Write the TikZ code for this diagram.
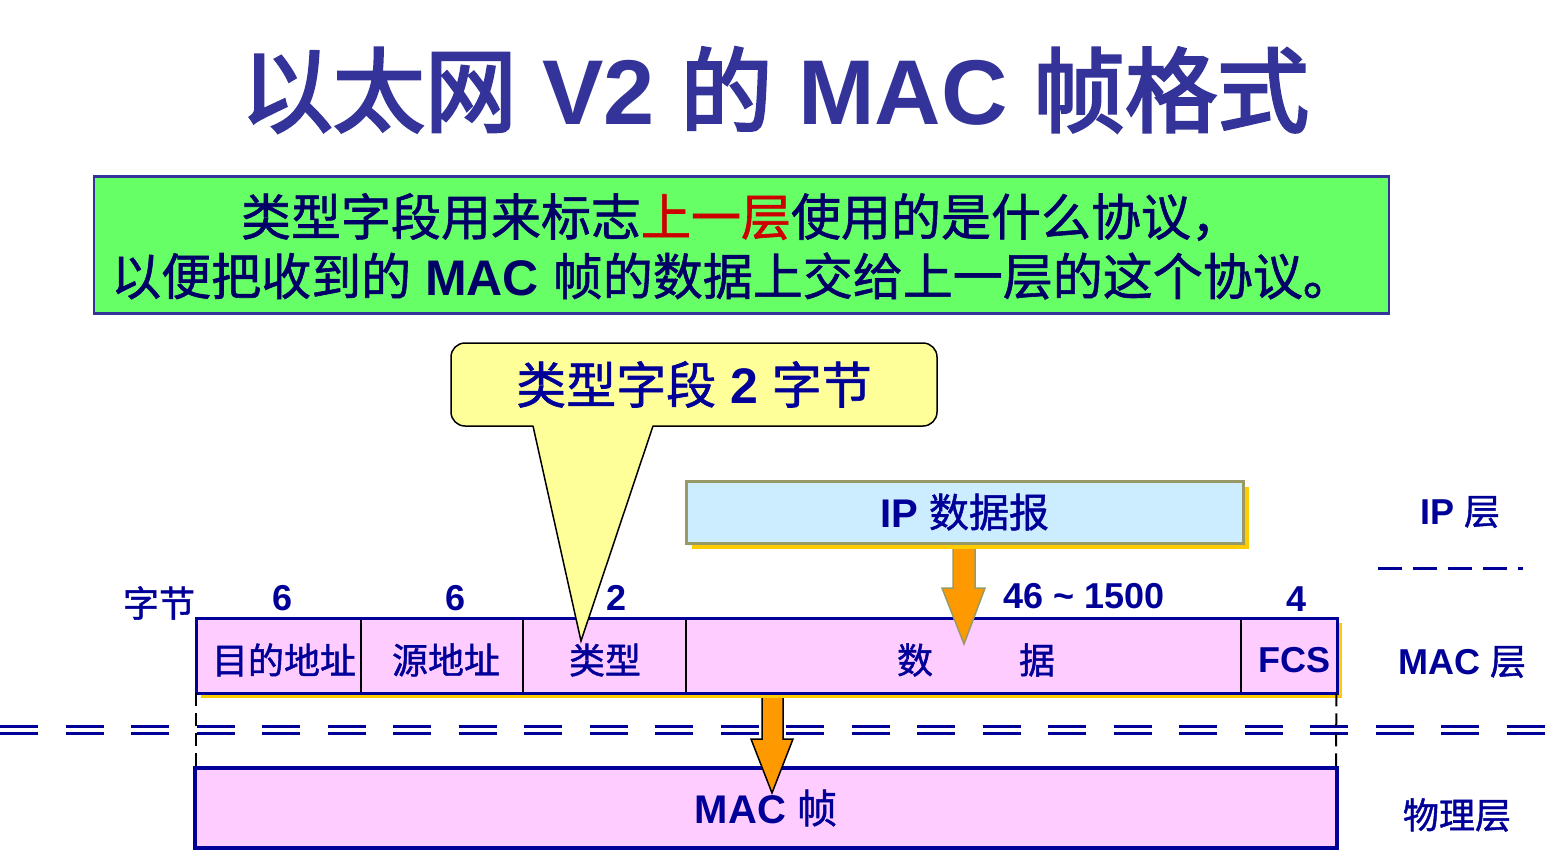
\documentclass[tikz,border=0pt]{standalone}
\usepackage{fontspec}
\setmainfont{Liberation Sans}
\newfontfamily\cjk{Noto Sans CJK SC}[FakeBold=1.2]
\newfontfamily\cjkheavy{Noto Sans CJK SC}[FakeBold=3]
\newcommand\zh[1]{{\cjk\mdseries #1}}
\newcommand\zhb[1]{{\cjkheavy\mdseries #1}}

\definecolor{titleblue}{HTML}{333399}
\definecolor{navy}{HTML}{000099}
\definecolor{deepnavy}{HTML}{000066}
\definecolor{boxgreen}{HTML}{66FF66}
\definecolor{boxred}{HTML}{CC0000}
\definecolor{calloutyellow}{HTML}{FFFF99}
\definecolor{framepink}{HTML}{FFCCFF}
\definecolor{ipblue}{HTML}{CCECFF}
\definecolor{olivegray}{HTML}{999966}
\definecolor{shadowgold}{HTML}{FFCC00}
\definecolor{arroworange}{HTML}{FF9900}

\tikzset{
  titletext/.style={font=\fontsize{92}{100}\selectfont\bfseries, text=titleblue, inner sep=0},
  notetext/.style={font=\fontsize{50}{60}\selectfont\bfseries, text=deepnavy, inner sep=0},
  fieldtext/.style={font=\fontsize{36}{40}\selectfont\bfseries, text=navy, inner sep=0},
  sizetext/.style={font=\fontsize{36}{40}\selectfont\bfseries, text=navy, inner sep=0},
  layertext/.style={font=\fontsize{36}{40}\selectfont\bfseries, text=navy, inner sep=0},
  cellbox/.style={fill=framepink, inner sep=0, minimum height=75},
  blockarrow/.style={fill=arroworange, line width=1.5, line join=miter},
  bluedash/.style={navy, line width=3},
  blackdash/.style={black, line width=2, dash pattern=on 13pt off 7pt},
}

\begin{document}
\begin{tikzpicture}[x=1pt, y=-1pt]
\useasboundingbox (0,0) rectangle (1551,857);

% heading
\node[titletext] (title) at (775,90) {\zhb{以太网} V2 \zhb{的} MAC \zhb{帧格式}};

% explanation box
\node[draw=titleblue, line width=2.5, fill=boxgreen, minimum width=1295, minimum height=137, inner sep=0] (note) at (741.5,245) {};
\node[notetext] (noteA) at (741,217) {\zh{类型字段用来标志}\textcolor{boxred}{\zh{上一层}}\zh{使用的是什么协议，}};
\node[notetext] (noteB) at (732,276) {\zh{以便把收到的} MAC \zh{帧的数据上交给上一层的这个协议。}};

% layer separators
\draw[bluedash, dash pattern=on 38pt off 27.5pt] (0,726.5) -- (1551,726.5);
\draw[bluedash, dash pattern=on 38pt off 27.5pt] (0,733.5) -- (1551,733.5);
\draw[navy, line width=3, dash pattern=on 24pt off 11pt] (1378,568) -- (1523,568);

% physical layer frame
\node[draw=navy, line width=4, fill=framepink, minimum width=1142, minimum height=80, inner sep=0,
      font=\fontsize{40}{44}\selectfont\bfseries, text=navy] (phy) at (766,808) {MAC \zh{帧}};

% frame boundaries carried down to the physical layer
\coordinate (dl) at (196,768);
\coordinate (dr) at (1336,768);

% arrow from MAC frame to the physical layer
\draw[blockarrow] (762,690) -- (783,690) -- (783,739) -- (793,739) -- (772,793) -- (751,739) -- (762,739) -- cycle;

% MAC frame fields
\fill[shadowgold] (201,623) rectangle (1342,698);
\node[cellbox, minimum width=165, anchor=north west] (dst) at (196,618) {};
\node[cellbox, minimum width=162, anchor=north west] (src) at (361,618) {};
\node[cellbox, minimum width=163, anchor=north west] (typ) at (523,618) {};
\node[cellbox, minimum width=555, anchor=north west] (dat) at (686,618) {};
\node[cellbox, minimum width=96, anchor=north west] (fcs) at (1241,618) {};
\draw[black, line width=1.5] (src.north west) -- (src.south west);
\draw[black, line width=1.5] (typ.north west) -- (typ.south west);
\draw[black, line width=1.5] (dat.north west) -- (dat.south west);
\draw[black, line width=1.5] (fcs.north west) -- (fcs.south west);
\draw[navy, line width=3] (dst.north west) rectangle (fcs.south east);
\draw[blackdash] (dst.south west) -- (dl);
\draw[blackdash] ([xshift=-1pt]fcs.south east) -- (dr);

\node[fieldtext] (dstlab) at (284,660) {\zh{目的地址}};
\node[fieldtext] (srclab) at (446,660) {\zh{源地址}};
\node[fieldtext] (typlab) at (605,660) {\zh{类型}};
\node[fieldtext] (datlabA) at (915,660) {\zh{数}};
\node[fieldtext] (datlabB) at (1037,660) {\zh{据}};
\node[fieldtext] (fcslab) at (1294,660) {FCS};

% field sizes in bytes
\node[sizetext] (unit) at (159,603) {\zh{字节}};
\node[sizetext] (szdst) at (283,598) {6};
\node[sizetext] (szsrc) at (456,598) {6};
\node[sizetext] (sztyp) at (617,598) {2};
\node[sizetext] (szdat) at (1084,596) {46 \textasciitilde\ 1500};
\node[sizetext] (szfcs) at (1296,599) {4};

% arrow from the IP datagram into the data field
\draw[blockarrow, draw=olivegray] (953,540) -- (975,540) -- (975,588) -- (985,588) -- (964,644) -- (942,588) -- (953,588) -- cycle;

% IP datagram
\fill[shadowgold] (692,487) rectangle (1249,549);
\node[draw=olivegray, line width=3, fill=ipblue, minimum width=557, minimum height=62, inner sep=0,
      font=\fontsize{40}{44}\selectfont\bfseries, text=navy] (ip) at (964.5,512) {IP \zh{数据报}};

% layer names
\node[layertext] (lip) at (1460,512) {IP \zh{层}};
\node[layertext] (lmac) at (1462,662) {MAC \zh{层}};
\node[layertext] (lphy) at (1457,815) {\zh{物理层}};

% callout pointing at the type field
\node[draw=black, line width=1.5, fill=calloutyellow, rounded corners=14, minimum width=486, minimum height=83, inner sep=0,
      font=\fontsize{50}{54}\selectfont\bfseries, text=navy] (call) at (694,384.5) {\zh{类型字段} 2 \zh{字节}};
\coordinate (tip) at (581,641);
\fill[calloutyellow] (533,424) -- (tip) -- (653,424) -- cycle;
\draw[black, line width=1.5, line join=miter] (533,426) -- (tip) -- (653,426);
\end{tikzpicture}
\end{document}
